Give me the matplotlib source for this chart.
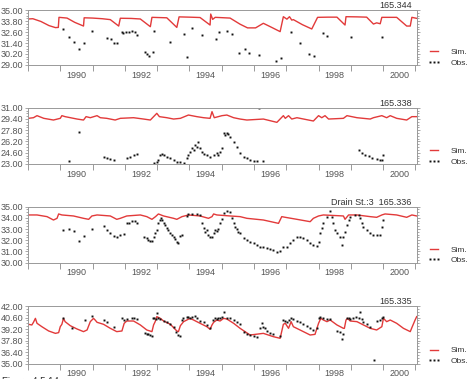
import numpy as np
import matplotlib
matplotlib.use('Agg')
import matplotlib.pyplot as plt
from matplotlib.ticker import MultipleLocator, AutoMinorLocator, FixedLocator, NullFormatter

plt.rcParams['font.family'] = ['Liberation Sans', 'DejaVu Sans']

# ---- panel 1 : 165.344 ----
sim1_t = [1989.01, 1989.15, 1989.40, 1989.65, 1989.85, 1989.94, 1989.96, 1990.21, 1990.45, 1990.72,
          1990.74, 1991.00, 1991.30, 1991.55, 1991.81, 1991.86, 1992.20, 1992.48, 1992.79, 1992.84,
          1993.30, 1993.61, 1993.68, 1994.00, 1994.33, 1994.64, 1994.66, 1994.72, 1994.80, 1995.26,
          1995.57, 1995.80, 1996.05, 1996.29, 1996.55, 1996.81, 1996.91, 1997.02, 1997.10, 1997.17,
          1997.22, 1997.50, 1997.79, 1997.97, 1998.30, 1998.57, 1998.82, 1998.85, 1999.20, 1999.49,
          1999.70, 1999.80, 1999.91, 1999.96, 2000.42, 2000.73, 2000.84, 2000.89, 2001.04]
sim1_v = [34.02, 34.05, 33.75, 33.30, 33.08, 33.10, 34.20, 34.12, 33.65, 33.25,
          34.15, 34.12, 34.05, 33.95, 33.25, 34.10, 34.08, 34.02, 33.18, 34.20,
          34.15, 33.10, 34.25, 34.22, 34.18, 33.36, 34.56, 33.98, 34.20, 34.12,
          33.45, 33.05, 33.05, 33.55, 33.10, 32.64, 34.27, 34.00, 34.27, 33.90,
          33.95, 33.40, 32.93, 34.20, 34.22, 34.22, 33.36, 34.27, 34.25, 34.22,
          33.47, 33.60, 33.50, 34.20, 34.20, 33.25, 33.25, 34.20, 34.09]
obs1_t = [1990.10, 1990.26, 1990.41, 1990.59, 1990.75, 1990.98, 1991.44, 1991.57, 1991.65, 1991.77,
          1991.91, 1991.93, 1992.04, 1992.12, 1992.22, 1992.32, 1992.37, 1992.63, 1992.70, 1992.76,
          1992.86, 1992.91, 1993.41, 1993.82, 1993.94, 1994.08, 1994.39, 1994.83, 1994.93, 1995.16,
          1995.31, 1995.55, 1995.73, 1995.86, 1996.17, 1996.69, 1996.84, 1997.15, 1997.41, 1997.71,
          1997.87, 1998.13, 1998.26, 1999.01, 1999.98]
obs1_v = [32.89, 32.09, 31.47, 30.71, 31.44, 32.71, 31.91, 31.84, 31.44, 31.44,
          32.56, 32.45, 32.56, 32.60, 32.71, 32.56, 32.24, 30.38, 30.20, 30.02,
          30.38, 32.71, 31.51, 32.35, 29.91, 33.07, 32.27, 31.80, 32.64, 32.71,
          32.35, 30.31, 30.71, 30.35, 30.09, 29.47, 29.76, 32.60, 31.40, 30.20,
          30.02, 32.49, 32.13, 32.09, 32.09]

# ---- panel 2 : 165.338 ----
sim2_t = [1989.01, 1989.17, 1989.28, 1989.49, 1989.79, 1990.00, 1990.05, 1990.15, 1990.52, 1990.72,
          1990.80, 1990.93, 1991.14, 1991.24, 1991.44, 1991.70, 1991.86, 1992.27, 1992.58, 1992.79,
          1992.99, 1993.07, 1993.30, 1993.51, 1993.72, 1993.97, 1994.23, 1994.44, 1994.64, 1994.70,
          1994.77, 1995.01, 1995.16, 1995.37, 1995.57, 1995.78, 1996.29, 1996.71, 1996.91, 1996.97,
          1997.07, 1997.17, 1997.33, 1997.84, 1998.00, 1998.10, 1998.20, 1998.31, 1998.77, 1998.88,
          1999.19, 1999.60, 1999.70, 1999.96, 2000.11, 2000.22, 2000.42, 2000.73, 2000.89, 2001.04]
sim2_v = [29.49, 29.58, 29.87, 29.49, 29.25, 29.49, 29.87, 29.73, 29.39, 29.25,
          29.73, 29.58, 29.87, 29.58, 29.49, 29.25, 29.49, 29.58, 29.39, 29.25,
          30.20, 29.73, 29.58, 29.39, 29.49, 29.96, 29.73, 29.58, 29.49, 30.44,
          29.58, 29.87, 29.96, 29.58, 29.39, 29.25, 29.39, 28.92, 29.87, 29.49,
          29.87, 29.39, 29.58, 29.11, 29.87, 29.58, 29.87, 29.39, 29.49, 29.87,
          29.58, 29.39, 29.58, 29.87, 29.58, 29.87, 29.49, 29.25, 29.73, 29.73]
obs2_t = [1990.26, 1990.59, 1991.34, 1991.44, 1991.55, 1991.65, 1992.06, 1992.17, 1992.27, 1992.37,
          1992.89, 1992.99, 1993.04, 1993.10, 1993.15, 1993.20, 1993.30, 1993.41, 1993.51, 1993.61,
          1993.72, 1993.82, 1993.92, 1993.97, 1994.02, 1994.08, 1994.13, 1994.18, 1994.23, 1994.28,
          1994.33, 1994.39, 1994.44, 1994.54, 1994.64, 1994.75, 1994.85, 1994.90, 1994.95, 1995.01,
          1995.06, 1995.11, 1995.16, 1995.21, 1995.26, 1995.37, 1995.47, 1995.57, 1995.68, 1995.78,
          1995.88, 1995.99, 1996.09, 1996.29, 1996.17, 1999.24, 1999.34, 1999.44, 1999.55, 1999.65,
          1999.80, 1999.91, 1999.96, 2000.01]
obs2_v = [23.47, 27.50, 24.04, 23.90, 23.71, 23.52, 23.90, 24.04, 24.28, 24.37,
          23.10, 23.33, 23.57, 24.28, 24.37, 24.28, 24.04, 23.81, 23.57, 23.33,
          23.24, 23.19, 23.81, 24.28, 24.75, 25.23, 24.99, 25.70, 25.46, 26.17,
          25.23, 24.75, 24.37, 24.28, 24.04, 24.28, 24.52, 24.28, 24.75, 25.23,
          27.36, 27.12, 27.36, 27.22, 26.88, 26.17, 25.46, 24.52, 24.04, 23.81,
          23.57, 23.43, 23.43, 23.43, 30.91, 24.99, 24.52, 24.28, 24.14, 23.90,
          23.71, 23.57, 23.57, 24.28]

# ---- panel 3 : Drain St.:3 165.336 ----
sim3_t = [1989.01, 1989.28, 1989.59, 1989.79, 1989.90, 1989.95, 1990.05, 1990.41, 1990.72, 1990.88,
          1990.98, 1991.14, 1991.55, 1991.75, 1991.86, 1992.06, 1992.48, 1992.68, 1992.84, 1992.95,
          1993.04, 1993.20, 1993.51, 1993.61, 1993.77, 1993.97, 1994.33, 1994.59, 1994.70, 1994.75,
          1994.85, 1995.26, 1995.57, 1995.78, 1996.29, 1996.76, 1996.86, 1996.97, 1997.33, 1997.74,
          1997.84, 1998.00, 1998.15, 1998.77, 1998.82, 1998.93, 1999.19, 1999.60, 1999.80, 1999.96,
          2000.06, 2000.42, 2000.73, 2000.89, 2001.04]
sim3_v = [34.26, 34.26, 34.11, 33.81, 33.96, 34.35, 34.26, 34.17, 33.96, 33.87,
          34.17, 34.26, 34.17, 33.87, 33.96, 34.17, 34.26, 34.11, 33.87, 34.11,
          34.35, 34.17, 33.96, 33.87, 34.11, 34.26, 34.17, 33.96, 34.11, 34.35,
          34.26, 34.17, 34.11, 33.96, 33.81, 33.51, 34.11, 34.05, 33.87, 33.66,
          33.96, 34.17, 34.26, 34.17, 33.87, 34.26, 34.26, 34.11, 34.05, 34.26,
          34.35, 34.26, 34.05, 34.26, 34.17]
obs3_t = [1990.10, 1990.26, 1990.41, 1990.59, 1990.75, 1990.98, 1991.34, 1991.44, 1991.55, 1991.65,
          1991.75, 1991.86, 1991.96, 1992.06, 1992.12, 1992.22, 1992.32, 1992.37, 1992.58, 1992.68,
          1992.73, 1992.79, 1992.84, 1992.89, 1992.94, 1992.99, 1993.04, 1993.08, 1993.12, 1993.15,
          1993.20, 1993.25, 1993.30, 1993.35, 1993.41, 1993.46, 1993.51, 1993.56, 1993.61, 1993.66,
          1993.72, 1993.77, 1993.92, 1993.97, 1994.08, 1994.23, 1994.33, 1994.39, 1994.44, 1994.49,
          1994.54, 1994.59, 1994.64, 1994.70, 1994.75, 1994.80, 1994.85, 1994.90, 1994.95, 1995.01,
          1995.06, 1995.16, 1995.26, 1995.31, 1995.37, 1995.42, 1995.47, 1995.52, 1995.57, 1995.68,
          1995.78, 1995.88, 1995.99, 1996.09, 1996.19, 1996.29, 1996.40, 1996.50, 1996.60, 1996.71,
          1996.81, 1996.91, 1997.02, 1997.12, 1997.22, 1997.33, 1997.43, 1997.53, 1997.64, 1997.74,
          1997.84, 1997.95, 1998.00, 1998.05, 1998.10, 1998.15, 1998.26, 1998.36, 1998.41, 1998.46,
          1998.51, 1998.57, 1998.67, 1998.72, 1998.77, 1998.82, 1998.88, 1998.93, 1998.98, 1999.13,
          1999.24, 1999.29, 1999.34, 1999.39, 1999.49, 1999.60, 1999.70, 1999.80, 1999.91, 1999.96,
          1999.99]
obs3_v = [32.92, 32.98, 32.86, 31.97, 32.41, 33.01, 33.31, 32.92, 32.62, 32.41,
          32.26, 32.47, 32.53, 33.51, 33.57, 33.72, 33.75, 33.51, 32.32, 32.18,
          32.03, 31.97, 31.97, 32.32, 32.62, 32.92, 33.51, 33.81, 33.96, 33.81,
          33.51, 33.37, 33.07, 32.92, 32.68, 32.47, 32.32, 32.09, 31.88, 31.73,
          32.38, 32.47, 34.17, 34.35, 34.35, 34.35, 34.26, 33.51, 33.07, 32.77,
          32.92, 32.47, 32.32, 32.26, 32.62, 32.92, 32.86, 32.98, 33.51, 33.87,
          34.41, 34.65, 34.56, 33.96, 33.51, 33.22, 32.98, 32.77, 32.62, 32.18,
          32.03, 31.88, 31.73, 31.58, 31.43, 31.37, 31.28, 31.19, 31.13, 30.98,
          31.04, 31.43, 31.43, 31.73, 32.03, 32.26, 32.32, 32.23, 32.03, 31.79,
          31.58, 31.49, 31.88, 32.62, 33.07, 33.51, 34.11, 34.65, 34.11, 33.51,
          32.92, 32.62, 32.32, 31.58, 32.32, 32.77, 33.37, 33.81, 34.11, 34.26,
          34.26, 33.96, 33.51, 33.22, 32.92, 32.68, 32.47, 32.47, 32.47, 33.22,
          33.81]

# ---- panel 4 : 165.335 ----
sim4_t = [1989.01, 1989.12, 1989.17, 1989.23, 1989.28, 1989.43, 1989.64, 1989.85, 1989.95, 1990.00,
          1990.05, 1990.10, 1990.15, 1990.31, 1990.52, 1990.72, 1990.83, 1990.93, 1991.03, 1991.08,
          1991.14, 1991.34, 1991.55, 1991.75, 1991.91, 1991.98, 1992.06, 1992.27, 1992.48, 1992.68,
          1992.84, 1992.89, 1992.94, 1992.99, 1993.10, 1993.20, 1993.41, 1993.61, 1993.66, 1993.72,
          1993.82, 1993.92, 1994.02, 1994.13, 1994.33, 1994.54, 1994.64, 1994.70, 1994.75, 1994.85,
          1994.95, 1995.06, 1995.16, 1995.37, 1995.57, 1995.88, 1996.29, 1996.60, 1996.81, 1996.91,
          1996.97, 1997.07, 1997.15, 1997.22, 1997.53, 1997.74, 1997.89, 1998.00, 1998.07, 1998.15,
          1998.26, 1998.36, 1998.57, 1998.77, 1998.80, 1998.85, 1998.90, 1998.98, 1999.19, 1999.39,
          1999.60, 1999.80, 1999.96, 2000.01, 2000.11, 2000.22, 2000.42, 2000.63, 2000.84, 2000.89,
          2000.99, 2001.04]
sim4_v = [39.78, 39.70, 40.02, 40.50, 39.90, 39.49, 38.97, 38.68, 38.77, 39.49,
          39.78, 40.50, 40.10, 39.61, 39.21, 38.89, 39.09, 40.10, 40.50, 40.30,
          40.02, 39.78, 39.29, 38.89, 38.97, 39.90, 40.18, 40.18, 39.70, 39.09,
          38.89, 39.70, 40.10, 40.71, 40.50, 40.18, 39.78, 38.97, 38.89, 39.61,
          40.10, 40.30, 40.50, 40.30, 39.90, 39.49, 39.17, 39.70, 40.02, 40.30,
          40.18, 40.50, 40.42, 39.90, 39.29, 38.48, 38.68, 38.28, 38.08, 39.78,
          39.90, 39.29, 40.10, 39.49, 38.89, 38.48, 38.56, 39.90, 40.50, 40.30,
          40.10, 40.30, 39.70, 39.29, 39.29, 40.30, 40.50, 40.18, 40.10, 39.70,
          39.29, 39.09, 39.49, 40.50, 40.10, 40.30, 39.90, 39.29, 38.89, 39.37,
          40.30, 40.71]
obs4_t = [1990.10, 1990.36, 1990.77, 1990.98, 1991.34, 1991.44, 1991.65, 1991.91, 1991.96, 1992.06,
          1992.22, 1992.27, 1992.37, 1992.63, 1992.68, 1992.73, 1992.79, 1992.84, 1992.87, 1992.91,
          1992.95, 1992.99, 1993.04, 1993.10, 1993.20, 1993.30, 1993.41, 1993.51, 1993.59, 1993.66,
          1993.72, 1993.77, 1993.80, 1993.92, 1993.97, 1994.02, 1994.08, 1994.18, 1994.23, 1994.33,
          1994.44, 1994.54, 1994.64, 1994.73, 1994.80, 1994.85, 1994.90, 1994.95, 1995.01, 1995.08,
          1995.16, 1995.26, 1995.37, 1995.47, 1995.57, 1995.68, 1995.78, 1995.88, 1995.99, 1996.09,
          1996.19, 1996.24, 1996.29, 1996.35, 1996.40, 1996.50, 1996.60, 1996.81, 1996.91, 1996.97,
          1997.02, 1997.07, 1997.15, 1997.22, 1997.33, 1997.43, 1997.53, 1997.64, 1997.74, 1997.84,
          1997.95, 1998.00, 1998.05, 1998.15, 1998.26, 1998.36, 1998.57, 1998.67, 1998.72, 1998.77,
          1998.88, 1998.93, 1998.98, 1999.08, 1999.16, 1999.24, 1999.29, 1999.34, 1999.39, 1999.49,
          1999.60, 1999.72, 1999.80, 1999.91, 1999.96, 1999.99]
obs4_v = [40.58, 39.37, 40.30, 40.83, 40.26, 40.10, 39.49, 40.50, 40.30, 40.38,
          40.54, 40.58, 40.38, 38.68, 38.60, 38.56, 38.48, 38.40, 40.50, 40.58,
          40.42, 41.11, 40.50, 40.38, 40.18, 40.02, 39.82, 39.49, 38.89, 38.48,
          38.36, 40.30, 40.50, 40.71, 40.71, 40.58, 40.67, 40.83, 40.50, 40.18,
          40.02, 39.70, 39.29, 40.30, 40.50, 40.42, 40.58, 40.58, 40.67, 41.23,
          40.58, 40.50, 40.30, 40.10, 39.78, 38.89, 38.56, 38.48, 38.40, 38.28,
          39.29, 39.90, 39.49, 39.29, 38.97, 38.68, 38.56, 38.40, 40.30, 40.18,
          40.02, 40.30, 40.58, 40.42, 40.18, 40.02, 39.82, 39.61, 39.29, 39.09,
          39.37, 40.50, 40.71, 40.50, 40.42, 40.38, 38.97, 38.89, 38.00, 38.56,
          40.50, 40.58, 40.42, 40.58, 40.71, 40.50, 41.31, 40.42, 40.10, 39.78,
          39.49, 35.49, 40.18, 40.30, 40.58, 40.71]

year_labels = ['1990', '1992', '1994', '1996', '1998', '2000']

panels = [
    dict(sim=(sim1_t, sim1_v), obs=(obs1_t, obs1_v), ylim=(29.0, 35.0), step=1.2, title='165.344'),
    dict(sim=(sim2_t, sim2_v), obs=(obs2_t, obs2_v), ylim=(23.0, 31.0), step=1.6, title='165.338'),
    dict(sim=(sim3_t, sim3_v), obs=(obs3_t, obs3_v), ylim=(30.0, 35.0), step=1.0, title='Drain St.:3  165.336'),
    dict(sim=(sim4_t, sim4_v), obs=(obs4_t, obs4_v), ylim=(35.0, 42.0), step=1.4, title='165.335'),
]

# axes boxes in figure fraction (left, bottom, width, height)
boxes = [(0.0594, 0.8285, 0.826, 0.1451),
         (0.0594, 0.5673, 0.826, 0.1485),
         (0.0594, 0.3069, 0.826, 0.1478),
         (0.0594, 0.0404, 0.826, 0.1522)]

red = '#e23a3a'
grey = '#999999'
txt = '#555555'

fig = plt.figure(figsize=(4.71, 3.79), dpi=100)

for p, box in zip(panels, boxes):
    ax = fig.add_axes(box)
    ax.plot(p['sim'][0], p['sim'][1], color=red, lw=1.0, label='Sim.')
    ax.plot(p['obs'][0], p['obs'][1], ls='none', marker='s', ms=1.4, mec='none', mfc='#111111',
            label='Obs.')
    ax.set_xlim(1989.0, 2001.05)
    lo, hi = p['ylim']
    ax.set_ylim(lo, hi)

    for s in ax.spines.values():
        s.set_color(grey)
        s.set_linewidth(0.7)

    # years: ticks at Jan 1, labels centred mid-year
    ax.xaxis.set_major_locator(MultipleLocator(1))
    ax.xaxis.set_major_formatter(NullFormatter())
    ax.xaxis.set_minor_locator(FixedLocator([int(y) + 0.5 for y in year_labels]))
    ax.set_xticklabels(year_labels, minor=True)
    ax.tick_params(axis='x', which='major', length=4, width=0.7, color=grey, direction='out')
    ax.tick_params(axis='x', which='minor', length=0, pad=4, labelsize=6.5, labelcolor=txt)

    yt = np.round(np.arange(lo, hi + 0.01, p['step']), 2)
    ax.yaxis.set_major_locator(FixedLocator(yt))
    ax.yaxis.set_minor_locator(AutoMinorLocator(4))
    ax.yaxis.set_major_formatter(lambda v, pos: '%.2f' % v)
    ax.tick_params(axis='y', which='both', left=True, right=True, direction='out',
                   color=grey, width=0.6, labelsize=6.5, labelcolor=txt, pad=1)
    ax.tick_params(axis='y', which='major', length=2.5)
    ax.tick_params(axis='y', which='minor', length=1.5)

    ax.annotate(p['title'], xy=(1.0, 1.0), xycoords='axes fraction', xytext=(-4, 1.5),
                textcoords='offset points', ha='right', va='baseline', fontsize=6.5, color='#333333')

    ax.legend(loc='center left', bbox_to_anchor=(1.028, 0.135), frameon=False, fontsize=6,
              numpoints=3, markerscale=1.0, handlelength=1.5, handletextpad=1.2,
              borderpad=0, borderaxespad=0, labelspacing=0.35, labelcolor='#333333')

# caption, cut by the lower edge as in the source page
fig.text(0.004, 2.0 / 379, 'Figure 4.5.14', ha='left', va='top', fontsize=7, color='#333333')

fig.savefig('out.png', dpi=100)
